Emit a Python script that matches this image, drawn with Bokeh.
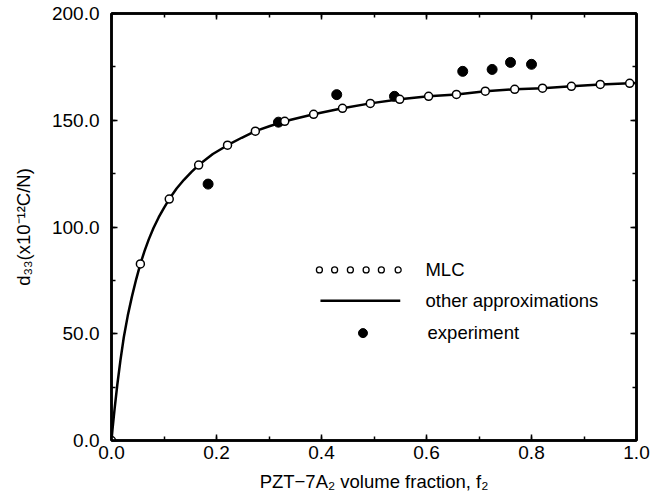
from bokeh.plotting import figure
from bokeh.models import (Range1d, LinearAxis, SingleIntervalTicker, NumeralTickFormatter,
                          CustomJSTickFormatter)
from bokeh.embed import file_html
from bokeh.resources import INLINE
from bokeh.core.properties import value

# ---- data ----
mlc_f = [0.0, 0.055, 0.110, 0.166, 0.221, 0.274, 0.330, 0.385, 0.440, 0.493,
         0.549, 0.604, 0.657, 0.712, 0.768, 0.821, 0.876, 0.931, 0.987]
mlc_d = [0.0, 82.7, 113.1, 129.0, 138.3, 144.9, 149.5, 152.8, 155.6, 157.9,
         159.8, 161.2, 162.1, 163.6, 164.5, 165.0, 165.9, 166.8, 167.3]

approx_f = [0.0, 0.002, 0.006, 0.011, 0.017, 0.0235, 0.031, 0.039, 0.047, 0.055,
            0.063, 0.071, 0.080, 0.090, 0.100, 0.110, 0.124, 0.138, 0.152, 0.166,
            0.193, 0.221, 0.248, 0.274, 0.302, 0.330, 0.385, 0.440, 0.493, 0.549,
            0.604, 0.657, 0.712, 0.768, 0.821, 0.876, 0.931, 0.987, 1.0]
approx_d = [0.0, 5.5, 15.0, 26.0, 37.5, 48.5, 58.5, 67.5, 75.5, 82.7,
            88.8, 94.2, 99.5, 104.6, 109.0, 113.1, 118.0, 122.1, 125.7, 129.0,
            134.2, 138.3, 141.8, 144.9, 147.3, 149.5, 152.8, 155.6, 157.9, 159.8,
            161.2, 162.1, 163.6, 164.5, 165.0, 165.9, 166.8, 167.3, 167.4]

exp_f = [0.184, 0.318, 0.429, 0.539, 0.669, 0.725, 0.760, 0.800]
exp_d = [120.1, 149.1, 162.0, 161.2, 172.9, 173.8, 177.1, 176.2]

legend_labels = ["MLC", "other approximations", "experiment"]
x_label = "PZT\u22127A\u2082 volume fraction, f\u2082"
y_label = "d\u2083\u2083(x10\u207b\u00b9\u00b2C/N)"

# ---- layout constants (legend placement, in data units) ----
leg_circ_x = [0.396, 0.425, 0.455, 0.485, 0.514, 0.546]
leg_circ_y = 79.9
leg_line_x = [0.398, 0.550]
leg_line_y = 65.4
leg_dot_x = 0.479
leg_dot_y = 50.3
leg_text_x = [0.598, 0.598, 0.602]
leg_text_y = [79.9, 65.6, 50.7]

FONT = "Liberation Sans"

p = figure(width=660, height=494, output_backend="svg", toolbar_location=None,
           x_range=Range1d(0, 1), y_range=Range1d(0, 200),
           min_border_left=111, min_border_right=24, min_border_top=13,
           min_border_bottom=53)
p.xgrid.visible = False
p.ygrid.visible = False
p.background_fill_color = "white"
p.border_fill_color = "white"
p.outline_line_color = "black"
p.outline_line_width = 2.5

xt = SingleIntervalTicker(interval=0.2, num_minor_ticks=2)
yt = SingleIntervalTicker(interval=50, num_minor_ticks=2)

for ax, tk in ((p.xaxis[0], xt), (p.yaxis[0], yt)):
    ax.ticker = tk
    ax.formatter = NumeralTickFormatter(format="0.0")
    ax.major_tick_in = 6
    ax.major_tick_out = 0
    ax.minor_tick_in = 4
    ax.minor_tick_out = 0
    ax.axis_line_width = 2.5
    ax.major_tick_line_width = 1.5
    ax.minor_tick_line_width = 1.5
    ax.major_label_text_font = FONT
    ax.major_label_text_font_size = "19px"
    ax.major_label_text_color = "black"
    ax.axis_label_text_font = FONT
    ax.axis_label_text_font_size = "18.5px"
    ax.axis_label_text_font_style = "normal"
    ax.axis_label_text_color = "black"

p.xaxis[0].axis_label = x_label
p.yaxis[0].axis_label = y_label
p.xaxis[0].major_label_standoff = 5
p.xaxis[0].axis_label_standoff = 9
p.yaxis[0].major_label_standoff = 12
p.yaxis[0].axis_label_standoff = 15

blank = CustomJSTickFormatter(code="return ''")
for loc, tk in (("above", xt), ("right", yt)):
    a = LinearAxis(ticker=tk, formatter=blank, major_tick_in=6, major_tick_out=0,
                   minor_tick_in=4, minor_tick_out=0, axis_line_width=2.5,
                   major_tick_line_width=1.5, minor_tick_line_width=1.5,
                   major_label_standoff=0)
    p.add_layout(a, loc)

# curve
p.line(approx_f, approx_d, line_color="black", line_width=2.5)
# experiment
p.scatter(exp_f, exp_d, marker="circle", size=10, fill_color="black", line_color="black")
# MLC
p.scatter(mlc_f, mlc_d, marker="circle", size=8, fill_color="white",
          line_color="black", line_width=1.5)

# legend
p.scatter(leg_circ_x, [leg_circ_y] * len(leg_circ_x), marker="circle", size=6,
          fill_color="white", line_color="black", line_width=1.3)
p.line(leg_line_x, [leg_line_y] * 2, line_color="black", line_width=2.5)
p.scatter([leg_dot_x], [leg_dot_y], marker="circle", size=9, fill_color="black",
          line_color="black")
p.text(x=leg_text_x, y=leg_text_y, text=legend_labels, text_font=value(FONT),
       text_font_size="18.5px", text_baseline="middle", text_align="left",
       text_color="black")

open("out.html", "w").write(file_html(p, INLINE))
